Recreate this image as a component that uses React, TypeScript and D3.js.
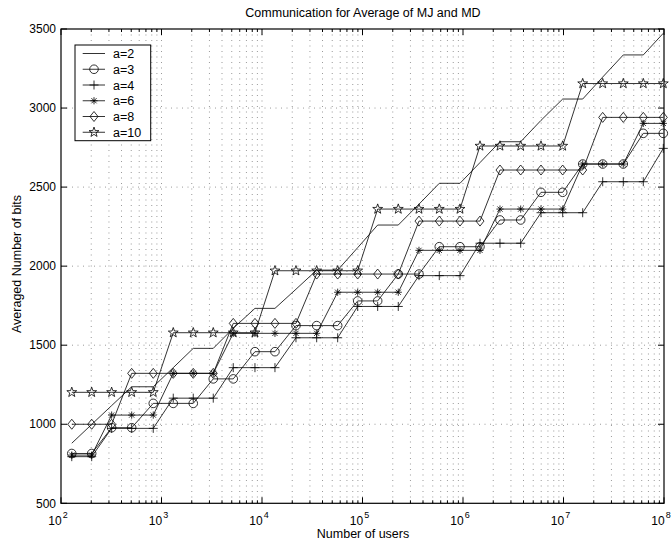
import React from 'react';
import * as d3 from 'd3';

// number of users (x positions)
const users = [128, 202, 319, 505, 828, 1309, 2070, 3273, 5176, 8511, 13459, 21777, 34995, 56624, 89536,
  141579, 226986, 364754, 580764, 933254, 1475707, 2333458, 3749730, 5970353, 9817479, 15523870,
  24547089, 39355008, 62230029, 98401110];

const a2 = [880, 999, 1118, 1237, 1237, 1358, 1480, 1480, 1607, 1733, 1733, 1854, 1975, 1975, 2117, 2260,
  2260, 2392, 2524, 2524, 2655, 2787, 2787, 2922, 3057, 3057, 3196, 3336, 3336, 3473];
const a3 = [815, 815, 978, 978, 1132, 1132, 1132, 1287, 1287, 1459, 1459, 1624, 1624, 1624, 1780, 1780,
  1950, 1950, 2123, 2123, 2123, 2292, 2292, 2467, 2467, 2646, 2646, 2646, 2840, 2840];
const a4 = [795, 795, 974, 974, 974, 1165, 1165, 1165, 1358, 1358, 1358, 1547, 1547, 1547, 1745, 1745,
  1745, 1940, 1940, 1940, 2145, 2145, 2145, 2338, 2338, 2338, 2534, 2534, 2534, 2745];
const a6 = [805, 805, 1058, 1058, 1058, 1322, 1322, 1322, 1575, 1575, 1575, 1575, 1575, 1835, 1835, 1835,
  1835, 2100, 2100, 2100, 2100, 2361, 2361, 2361, 2361, 2646, 2646, 2646, 2903, 2903];
const a8 = [1000, 1000, 1000, 1322, 1322, 1322, 1322, 1322, 1638, 1638, 1638, 1638, 1950, 1950, 1950, 1950,
  1950, 2285, 2285, 2285, 2285, 2608, 2608, 2608, 2608, 2608, 2941, 2941, 2941, 2941];
const a10 = [1202, 1202, 1202, 1202, 1202, 1579, 1579, 1579, 1579, 1579, 1971, 1971, 1971, 1971, 1971,
  2361, 2361, 2361, 2361, 2361, 2760, 2760, 2760, 2760, 2760, 3155, 3155, 3155, 3155, 3155];

const seriesNames = ['a=2', 'a=3', 'a=4', 'a=6', 'a=8', 'a=10'];
const seriesValues = [a2, a3, a4, a6, a8, a10];
const seriesMarkers = ['none', 'circle', 'plus', 'asterisk', 'diamond', 'star'];

const xTickExps = [2, 3, 4, 5, 6, 7, 8];
const yTicks = [500, 1000, 1500, 2000, 2500, 3000, 3500];

const title = 'Communication for Average of MJ and MD';
const xLabel = 'Number of users';
const yLabel = 'Averaged Number of bits';

const FONT = '"Liberation Sans", Arial, Helvetica, sans-serif';

function markerPath(kind: string, cx: number, cy: number): string {
  const p = d3.path();
  if (kind === 'circle') {
    p.moveTo(cx + 4.3, cy);
    p.arc(cx, cy, 4.3, 0, Math.PI * 2);
  } else if (kind === 'plus') {
    p.moveTo(cx - 4.5, cy); p.lineTo(cx + 4.5, cy);
    p.moveTo(cx, cy - 4.5); p.lineTo(cx, cy + 4.5);
  } else if (kind === 'asterisk') {
    const r = 3.6, d = 2.6;
    p.moveTo(cx - r, cy); p.lineTo(cx + r, cy);
    p.moveTo(cx, cy - r); p.lineTo(cx, cy + r);
    p.moveTo(cx - d, cy - d); p.lineTo(cx + d, cy + d);
    p.moveTo(cx - d, cy + d); p.lineTo(cx + d, cy - d);
  } else if (kind === 'diamond') {
    p.moveTo(cx, cy - 5); p.lineTo(cx + 4, cy); p.lineTo(cx, cy + 5); p.lineTo(cx - 4, cy); p.closePath();
  } else if (kind === 'star') {
    const R = 5.2, r = 2.1;
    for (let i = 0; i < 10; i++) {
      const ang = -Math.PI / 2 + i * Math.PI / 5;
      const rr = i % 2 === 0 ? R : r;
      const px = cx + rr * Math.cos(ang), py = cy + rr * Math.sin(ang);
      if (i === 0) p.moveTo(px, py); else p.lineTo(px, py);
    }
    p.closePath();
  }
  return p.toString();
}

export default function App() {
  const L = 61, R = 664, T = 29, B = 503.3;
  const x = d3.scaleLog().domain([1e2, 1e8]).range([L, R]);
  const y = d3.scaleLinear().domain([500, 3500]).range([B, T]);

  const minorX: number[] = [];
  for (let e = 2; e < 8; e++) for (let k = 2; k <= 9; k++) minorX.push(k * Math.pow(10, e));
  const majorX = xTickExps.map(e => Math.pow(10, e));

  const line = d3.line<number>().x((_, i) => x(users[i])).y(d => y(d));

  const legX = 75, legY = 45, legW = 75.7, legH = 95.7;
  const rowY = (i: number) => 53.5 + i * 15.75;

  return (
    <svg width={672} height={541} style={{ position: 'absolute', left: 0, top: 0, background: '#fff' }}
      fontFamily={FONT}>
      <rect x={0} y={0} width={672} height={541} fill="#fff" />
      {/* grid */}
      <g stroke="#555" strokeWidth={0.6} strokeDasharray="1,4.5" fill="none">
        {[...minorX, ...majorX.slice(1, -1)].map((v, i) => (
          <line key={'gx' + i} x1={x(v)} x2={x(v)} y1={T} y2={B} />
        ))}
        {yTicks.slice(1, -1).map((v, i) => (
          <line key={'gy' + i} x1={L} x2={R} y1={y(v)} y2={y(v)} />
        ))}
      </g>
      {/* ticks */}
      <g stroke="#000" strokeWidth={1}>
        {majorX.map((v, i) => (
          <g key={'tx' + i}>
            <line x1={x(v)} x2={x(v)} y1={B} y2={B - 6} />
            <line x1={x(v)} x2={x(v)} y1={T} y2={T + 6} />
          </g>
        ))}
        {minorX.map((v, i) => (
          <g key={'mx' + i}>
            <line x1={x(v)} x2={x(v)} y1={B} y2={B - 3} />
            <line x1={x(v)} x2={x(v)} y1={T} y2={T + 3} />
          </g>
        ))}
        {yTicks.map((v, i) => (
          <g key={'ty' + i}>
            <line x1={L} x2={L + 6} y1={y(v)} y2={y(v)} />
            <line x1={R} x2={R - 6} y1={y(v)} y2={y(v)} />
          </g>
        ))}
      </g>
      {/* series */}
      <g fill="none" stroke="#000" strokeWidth={0.8}>
        {seriesValues.map((vals, s) => (
          <g key={'s' + s}>
            <path d={line(vals) || ''} />
            {seriesMarkers[s] !== 'none' && vals.map((v, i) => (
              <path key={i} d={markerPath(seriesMarkers[s], x(users[i]), y(v))} />
            ))}
          </g>
        ))}
      </g>
      {/* frame */}
      <rect x={L} y={T} width={R - L} height={B - T} fill="none" stroke="#000" strokeWidth={1.2} />
      {/* tick labels */}
      <g fontSize={12} fill="#000">
        {yTicks.map((v, i) => (
          <text key={'yl' + i} x={56} y={y(v) + 4.2} textAnchor="end">{v}</text>
        ))}
        {xTickExps.map((e, i) => (
          <text key={'xl' + i} x={x(Math.pow(10, e)) - 3} y={525} textAnchor="middle">
            10
            <tspan fontSize={9} dx={1} dy={-7}>{e}</tspan>
          </text>
        ))}
      </g>
      {/* labels */}
      <text x={363} y={17.3} fontSize={12.5} textAnchor="middle">{title}</text>
      <text x={363} y={538} fontSize={12.5} textAnchor="middle">{xLabel}</text>
      <text transform="translate(21,264) rotate(-90)" fontSize={12.5} textAnchor="middle">{yLabel}</text>
      {/* legend */}
      <rect x={legX} y={legY} width={legW} height={legH} fill="#fff" stroke="#000" strokeWidth={1} />
      <g fill="none" stroke="#000" strokeWidth={0.8}>
        {seriesNames.map((n, i) => (
          <g key={'lg' + i}>
            <line x1={82.7} x2={105} y1={rowY(i)} y2={rowY(i)} />
            {seriesMarkers[i] !== 'none' && <path d={markerPath(seriesMarkers[i], 94, rowY(i))} />}
          </g>
        ))}
      </g>
      <g fontSize={12.5} fill="#000">
        {seriesNames.map((n, i) => (
          <text key={'lt' + i} x={113} y={rowY(i) + 4.5}>{n}</text>
        ))}
      </g>
    </svg>
  );
}
